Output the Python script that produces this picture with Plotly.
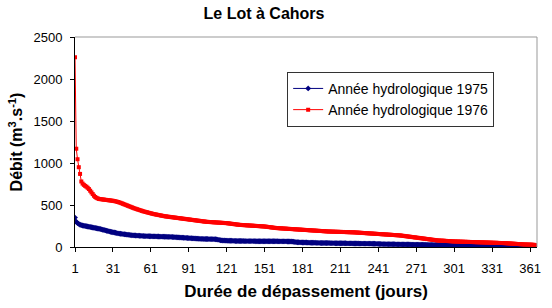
import plotly.graph_objects as go

title = "Le Lot à Cahors"
x_title = "Durée de dépassement (jours)"
y_title = "Débit (m<sup>3</sup>.s<sup>-1</sup>)"
name_1975 = "Année hydrologique 1975"
name_1976 = "Année hydrologique 1976"
x_ticks = [1, 31, 61, 91, 121, 151, 181, 211, 241, 271, 301, 331, 361]
y_ticks = [0, 500, 1000, 1500, 2000, 2500]

q1976 = [
    2260, 1170, 1045, 950, 870, 780, 755, 740, 728, 718,
    705, 690, 670, 650, 630, 610, 595, 585, 578, 572,
    570, 568, 566, 564, 562, 560, 558, 556, 554, 552,
    550, 547, 544, 540, 536, 531, 526, 520, 514, 508,
    502, 496, 490, 484, 478, 472, 466, 460, 455, 450,
    445, 440, 435, 430, 425, 421, 417, 413, 409, 405,
    401, 397, 393, 390, 387, 384, 381, 378, 375, 372,
    369, 366, 364, 362, 360, 358, 356, 354, 352, 350,
    348, 346, 344, 342, 340, 338, 336, 334, 332, 330,
    328, 326, 324, 322, 320, 318, 316, 314, 312, 310,
    308, 306, 304, 302, 300, 299, 298, 297, 296, 295,
    294, 293, 292, 291, 290, 289, 288, 287, 286, 285,
    284, 282, 280, 278, 276, 274, 272, 270, 268, 266,
    264, 263, 262, 261, 260, 259, 258, 257, 256, 255,
    254, 253, 252, 251, 250, 249, 248, 247, 246, 245,
    244, 242, 240, 238, 236, 234, 232, 230, 228, 226,
    225, 224, 223, 222, 221, 220, 219, 218, 217, 216,
    215, 214, 213, 212, 211, 210, 209, 208, 207, 206,
    205, 204, 203, 202, 201, 200, 199, 198, 197, 196,
    195, 194, 193, 192, 191, 190, 189, 188, 187, 186,
    185, 184, 184, 183, 183, 182, 182, 181, 181, 180,
    180, 179, 179, 178, 178, 177, 177, 176, 176, 175,
    175, 174, 173, 172, 171, 170, 169, 168, 167, 166,
    165, 164, 163, 162, 161, 160, 159, 158, 157, 156,
    155, 154, 153, 152, 151, 150, 149, 148, 147, 146,
    145, 144, 143, 142, 141, 140, 139, 138, 136, 134,
    132, 130, 128, 126, 124, 122, 120, 118, 116, 114,
    112, 110, 108, 106, 104, 102, 100, 98, 96, 94,
    92, 90, 88, 86, 84, 82, 80, 78, 77, 76,
    76, 75, 74, 73, 72, 71, 70, 69, 68, 67,
    66, 66, 65, 65, 64, 64, 63, 63, 62, 62,
    61, 61, 60, 60, 59, 59, 58, 58, 57, 57,
    56, 56, 55, 55, 54, 54, 53, 53, 52, 52,
    51, 51, 50, 50, 49, 49, 48, 48, 47, 47,
    46, 45, 44, 43, 42, 41, 40, 39, 38, 37,
    36, 35, 34, 33, 32, 31, 30, 30, 29, 29,
    28, 28, 27, 26, 22, 15,
]

q1975 = [
    350, 300, 285, 275, 265, 260, 256, 253, 250, 247,
    244, 241, 238, 235, 232, 229, 226, 223, 220, 217,
    214, 210, 206, 202, 198, 194, 190, 186, 182, 178,
    175, 172, 169, 166, 163, 160, 158, 156, 154, 152,
    150, 148, 146, 144, 142, 140, 139, 138, 137, 136,
    135, 134, 133, 132, 131, 130, 130, 129, 129, 128,
    128, 127, 127, 126, 126, 125, 125, 124, 124, 123,
    123, 122, 122, 121, 121, 120, 120, 119, 118, 117,
    116, 115, 114, 113, 112, 111, 110, 109, 108, 107,
    106, 105, 104, 103, 102, 101, 100, 99, 98, 97,
    96, 96, 95, 95, 95, 95, 94, 94, 94, 93,
    93, 92, 90, 87, 84, 81, 79, 78, 77, 76,
    76, 75, 75, 74, 74, 73, 73, 72, 72, 72,
    71, 71, 71, 71, 70, 70, 70, 70, 70, 70,
    70, 70, 70, 69, 69, 69, 69, 69, 69, 69,
    69, 69, 68, 68, 68, 68, 68, 68, 68, 68,
    68, 67, 67, 67, 67, 67, 67, 67, 66, 66,
    66, 66, 64, 62, 60, 58, 57, 56, 55, 55,
    54, 54, 53, 53, 52, 52, 51, 51, 50, 50,
    50, 49, 49, 49, 48, 48, 48, 48, 47, 47,
    47, 47, 46, 46, 46, 46, 45, 45, 45, 45,
    45, 44, 44, 44, 44, 43, 43, 43, 43, 43,
    42, 42, 42, 42, 42, 41, 41, 41, 41, 41,
    40, 40, 40, 40, 40, 39, 39, 39, 38, 38,
    37, 36, 36, 35, 35, 35, 34, 34, 34, 34,
    33, 33, 33, 33, 32, 32, 32, 32, 31, 31,
    31, 31, 30, 30, 30, 30, 29, 29, 29, 29,
    28, 28, 28, 28, 27, 27, 27, 27, 26, 26,
    26, 26, 25, 25, 25, 25, 24, 24, 24, 24,
    23, 23, 23, 23, 22, 22, 22, 22, 21, 21,
    21, 21, 20, 20, 20, 20, 20, 20, 19, 19,
    19, 19, 19, 19, 18, 18, 18, 18, 18, 18,
    17, 17, 17, 17, 17, 17, 16, 16, 16, 16,
    16, 16, 15, 15, 15, 15, 15, 15, 14, 14,
    14, 14, 14, 14, 13, 13, 13, 13, 13, 13,
    12, 12, 12, 12, 12, 12, 11, 11, 11, 11,
    11, 10, 10, 10, 9,
]

days_1975 = list(range(1, len(q1975) + 1))
days_1976 = list(range(1, len(q1976) + 1))

FONT = "Liberation Sans, Arial, sans-serif"

fig = go.Figure()
fig.add_trace(go.Scatter(
    x=days_1975, y=q1975, name=name_1975, mode="lines+markers",
    line=dict(color="#000080", width=1),
    marker=dict(color="#000080", symbol="diamond", size=4.5),
))
fig.add_trace(go.Scatter(
    x=days_1976, y=q1976, name=name_1976, mode="lines+markers",
    line=dict(color="#FF0000", width=1),
    marker=dict(color="#FF0000", symbol="square", size=4),
))

fig.update_layout(
    width=552, height=308,
    margin=dict(l=75, r=11, t=37, b=60),
    paper_bgcolor="white", plot_bgcolor="white",
    font=dict(family=FONT, size=13, color="black"),
    title=dict(text="<b>" + title + "</b>", x=264 / 552, xanchor="center",
               y=1 - 13 / 308, yanchor="middle",
               font=dict(size=16, family=FONT, color="black")),
    showlegend=True,
    legend=dict(
        x=(289 - 75) / 466, y=(248 - 72) / 211, xanchor="left", yanchor="top",
        bgcolor="white", bordercolor="#333333", borderwidth=1,
        font=dict(size=14, family=FONT, color="black"),
        itemwidth=30,
    ),
    xaxis=dict(
        range=[1, 366.5], tickmode="array", tickvals=x_ticks,
        ticktext=[str(v) for v in x_ticks],
        showgrid=False, zeroline=False,
        showline=True, linecolor="black", linewidth=1,
        ticks="outside", ticklen=4, tickcolor="black",
        ticklabelstandoff=5,
        tickfont=dict(size=13, family=FONT),
        title=dict(text="<b>" + x_title + "</b>", font=dict(size=17, family=FONT), standoff=10),
    ),
    yaxis=dict(
        range=[0, 2500], tickmode="array", tickvals=y_ticks,
        showgrid=False, zeroline=False,
        showline=True, linecolor="black", linewidth=1,
        ticks="outside", ticklen=4, tickcolor="black",
        ticklabelstandoff=5,
        tickfont=dict(size=13, family=FONT),
        title=dict(text="<b>" + y_title + "</b>", font=dict(size=16, family=FONT), standoff=6),
    ),
)

fig.add_shape(type="line", xref="paper", yref="paper", x0=0, x1=1, y0=1, y1=1,
              line=dict(color="#999999", width=1))
fig.add_shape(type="line", xref="paper", yref="paper", x0=1, x1=1, y0=0, y1=1,
              line=dict(color="#999999", width=1))

fig.write_html("out.html")
